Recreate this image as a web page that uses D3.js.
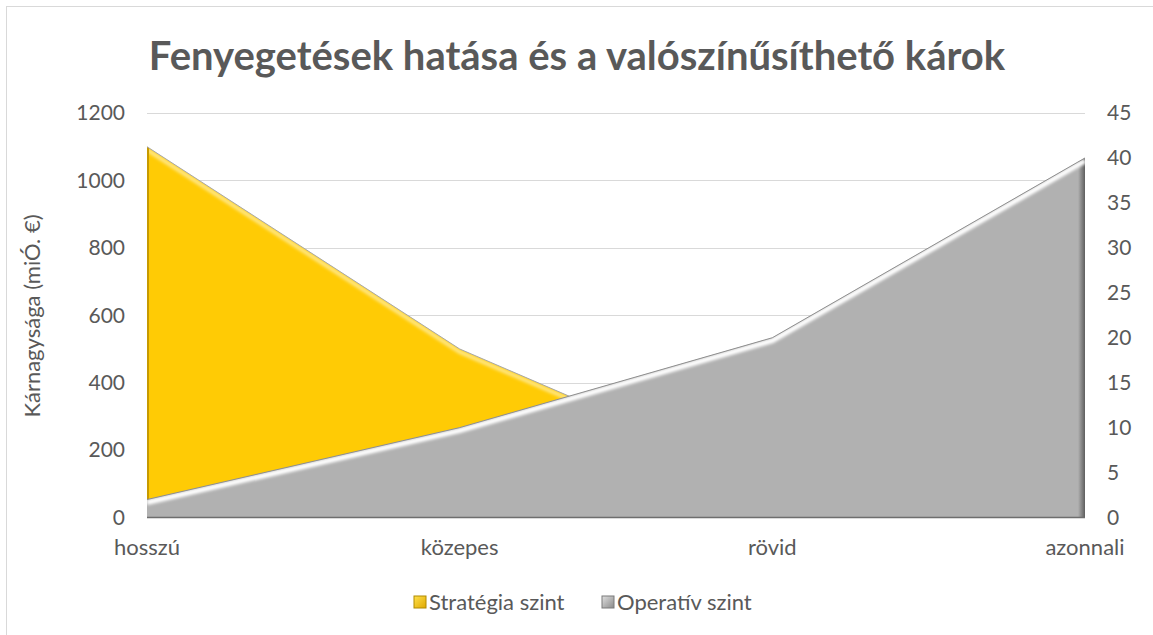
<!DOCTYPE html>
<html>
<head>
<meta charset="utf-8">
<script src="https://cdn.jsdelivr.net/npm/d3@7"></script>
<style>
  body { margin: 0; background: #fff; }
  svg text { font-family: Lato, "Open Sans", sans-serif; fill: #595959; }
</style>
</head>
<body>
<div id="chart"></div>
<script>
const width = 1153, height = 635;

const categories = ["hosszú", "közepes", "rövid", "azonnali"];
const strategia = [1100, 500, 100, 0];   // left axis, miÓ. €
const operativ  = [2, 10, 20, 40];       // right axis
const leftTicks  = [0, 200, 400, 600, 800, 1000, 1200];
const rightTicks = [0, 5, 10, 15, 20, 25, 30, 35, 40, 45];
const seriesNames = ["Stratégia szint", "Operatív szint"];

const plot = { left: 147, right: 1085, top: 113, bottom: 517.5 };

const svg = d3.select("#chart").append("svg")
    .attr("width", width)
    .attr("height", height);

const defs = svg.append("defs");
defs.append("filter").attr("id", "soft")
  .append("feGaussianBlur").attr("stdDeviation", 1.6);

const rightGrad = defs.append("linearGradient").attr("id", "rightEdge")
    .attr("x1", 0).attr("x2", 1).attr("y1", 0).attr("y2", 0);
rightGrad.append("stop").attr("offset", "0%").attr("stop-color", "#b1b1b1");
rightGrad.append("stop").attr("offset", "100%").attr("stop-color", "#5e5e5e");

const markGradL = defs.append("linearGradient").attr("id", "markL")
    .attr("x1", 0).attr("x2", 1).attr("y1", 0).attr("y2", 1);
markGradL.append("stop").attr("offset", "0%").attr("stop-color", "#ffe14d");
markGradL.append("stop").attr("offset", "100%").attr("stop-color", "#e0a800");
const markGradR = defs.append("linearGradient").attr("id", "markR")
    .attr("x1", 0).attr("x2", 1).attr("y1", 0).attr("y2", 1);
markGradR.append("stop").attr("offset", "0%").attr("stop-color", "#e0e0e0");
markGradR.append("stop").attr("offset", "100%").attr("stop-color", "#8a8a8a");

// chart border
svg.append("rect")
    .attr("x", 6.5).attr("y", 6.5)
    .attr("width", width).attr("height", height)
    .attr("fill", "none").attr("stroke", "#d9d9d9");

const x = d3.scalePoint().domain(categories).range([plot.left, plot.right]);
const yL = d3.scaleLinear().domain([0, 1200]).range([plot.bottom, plot.top]);
const yR = d3.scaleLinear().domain([0, 45]).range([plot.bottom, plot.top]);

// gridlines
svg.append("g").selectAll("line")
  .data(leftTicks.slice(1)).enter()
  .append("line")
    .attr("x1", plot.left).attr("x2", plot.right)
    .attr("y1", d => Math.round(yL(d)) + 0.5).attr("y2", d => Math.round(yL(d)) + 0.5)
    .attr("stroke", "#d9d9d9").attr("stroke-width", 1);

// Stratégia area
const areaL = d3.area().x((d, i) => x(categories[i])).y0(plot.bottom).y1(d => yL(d));
const lineL = d3.line().x((d, i) => x(categories[i])).y(d => yL(d));
defs.append("clipPath").attr("id", "clipL").append("path").attr("d", areaL(strategia));

svg.append("path").attr("d", areaL(strategia)).attr("fill", "#ffcb05");
const gL = svg.append("g").attr("clip-path", "url(#clipL)");
gL.append("path").attr("d", lineL(strategia))
    .attr("transform", "translate(0,3)")
    .attr("fill", "none").attr("stroke", "#ffe680").attr("stroke-width", 4)
    .attr("filter", "url(#soft)");
gL.append("line")
    .attr("x1", plot.left + 1).attr("x2", plot.left + 1)
    .attr("y1", plot.top).attr("y2", plot.bottom)
    .attr("stroke", "#c79a00").attr("stroke-width", 2);
svg.append("path").attr("d", lineL(strategia))
    .attr("fill", "none").attr("stroke", "#a8a8a8").attr("stroke-width", 1);

// Operatív area (secondary axis, drawn on top)
const areaR = d3.area().x((d, i) => x(categories[i])).y0(plot.bottom).y1(d => yR(d));
const lineR = d3.line().x((d, i) => x(categories[i])).y(d => yR(d));
defs.append("clipPath").attr("id", "clipR").append("path").attr("d", areaR(operativ));

svg.append("path").attr("d", areaR(operativ)).attr("fill", "#b1b1b1");
const gR = svg.append("g").attr("clip-path", "url(#clipR)");
gR.append("rect")
    .attr("x", plot.right - 7).attr("y", plot.top)
    .attr("width", 7).attr("height", plot.bottom - plot.top)
    .attr("fill", "url(#rightEdge)");
gR.append("path").attr("d", lineR(operativ))
    .attr("transform", "translate(0,3)")
    .attr("fill", "none").attr("stroke", "#ffffff").attr("stroke-width", 5)
    .attr("filter", "url(#soft)");
gR.append("line")
    .attr("x1", plot.left).attr("x2", plot.right)
    .attr("y1", plot.bottom - 3).attr("y2", plot.bottom - 3)
    .attr("stroke", "#d6d6d6").attr("stroke-width", 3)
    .attr("filter", "url(#soft)");
svg.append("path").attr("d", lineR(operativ))
    .attr("fill", "none").attr("stroke", "#8f8f8f").attr("stroke-width", 1);

// x axis line
svg.append("line")
    .attr("x1", plot.left).attr("x2", plot.right)
    .attr("y1", plot.bottom).attr("y2", plot.bottom)
    .attr("stroke", "#6e6e6e").attr("stroke-width", 1.5);

// tick labels
svg.append("g").selectAll("text")
  .data(leftTicks).enter()
  .append("text")
    .attr("x", 125).attr("y", d => yL(d))
    .attr("dy", "0.35em").attr("text-anchor", "end")
    .style("font-size", "21px")
    .text(d => d);

svg.append("g").selectAll("text")
  .data(rightTicks).enter()
  .append("text")
    .attr("x", 1107).attr("y", d => yR(d))
    .attr("dy", "0.35em").attr("text-anchor", "start")
    .style("font-size", "21px")
    .text(d => d);

svg.append("g").selectAll("text")
  .data(categories).enter()
  .append("text")
    .attr("x", d => x(d)).attr("y", 555)
    .attr("text-anchor", "middle")
    .style("font-size", "22px")
    .text(d => d);

// axis title
svg.append("text")
    .attr("transform", "translate(40,316) rotate(-90)")
    .attr("text-anchor", "middle")
    .style("font-size", "22px")
    .text("Kárnagysága (miÓ. €)");

// title
svg.append("text")
    .attr("x", 577).attr("y", 70)
    .attr("text-anchor", "middle")
    .style("font-size", "40px").style("font-weight", "bold")
    .text("Fenyegetések hatása és a valószínűsíthető károk");

// legend
const legendItems = [
  { name: seriesNames[0], x: 414, fill: "url(#markL)", edge: "#b08a00" },
  { name: seriesNames[1], x: 602, fill: "url(#markR)", edge: "#7a7a7a" }
];
const lg = svg.append("g").selectAll("g")
  .data(legendItems).enter()
  .append("g").attr("transform", d => "translate(" + d.x + ",596)");
lg.append("rect")
    .attr("width", 12).attr("height", 12)
    .attr("fill", d => d.fill).attr("stroke", d => d.edge).attr("stroke-width", 1);
lg.append("text")
    .attr("x", 15).attr("y", 6).attr("dy", "0.35em")
    .style("font-size", "22px")
    .text(d => d.name);
</script>
</body>
</html>
